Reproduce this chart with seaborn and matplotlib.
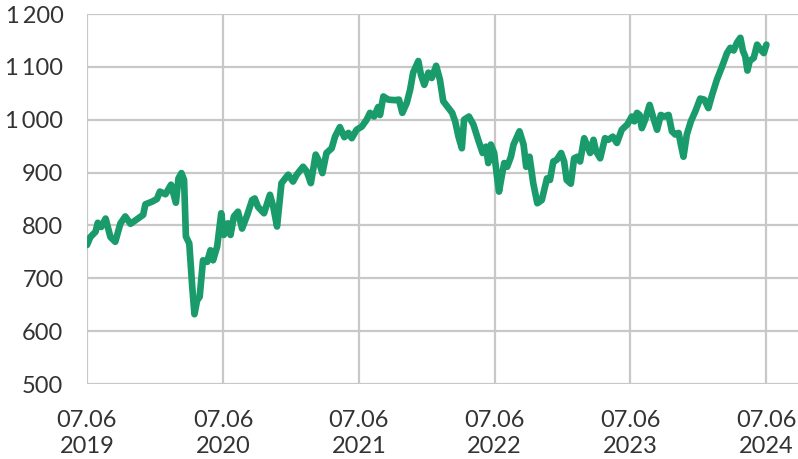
import pandas as pd
import matplotlib
matplotlib.use('Agg')
import matplotlib.pyplot as plt
import seaborn as sns

# values
dates = [
    '2019-07-06', '2019-07-15', '2019-07-29', '2019-08-04', '2019-08-13', '2019-08-25',
    '2019-09-07', '2019-09-20', '2019-10-04', '2019-10-17', '2019-10-31', '2019-11-18',
    '2019-12-04', '2019-12-10', '2019-12-28', '2020-01-10', '2020-01-18', '2020-02-02',
    '2020-02-17', '2020-03-01', '2020-03-08', '2020-03-16', '2020-03-23', '2020-03-28',
    '2020-04-06', '2020-04-14', '2020-04-20', '2020-04-27', '2020-05-04', '2020-05-13',
    '2020-05-24', '2020-06-02', '2020-06-09', '2020-06-20', '2020-07-01', '2020-07-08',
    '2020-07-19', '2020-07-26', '2020-08-04', '2020-08-15', '2020-08-26', '2020-09-09',
    '2020-09-22', '2020-09-29', '2020-10-08', '2020-10-24', '2020-11-09', '2020-11-18',
    '2020-11-28', '2020-12-10', '2020-12-28', '2021-01-10', '2021-01-20', '2021-02-06',
    '2021-02-16', '2021-02-27', '2021-03-12', '2021-03-19', '2021-03-30', '2021-04-10',
    '2021-04-24', '2021-05-03', '2021-05-16', '2021-05-28', '2021-06-08', '2021-06-17',
    '2021-06-30', '2021-07-14', '2021-07-27', '2021-08-05', '2021-08-16', '2021-08-27',
    '2021-09-01', '2021-09-10', '2021-09-23', '2021-10-11', '2021-10-22', '2021-10-31',
    '2021-11-12', '2021-11-21', '2021-11-29', '2021-12-13', '2021-12-20', '2021-12-29',
    '2022-01-09', '2022-01-18', '2022-01-30', '2022-02-09', '2022-02-18', '2022-03-04',
    '2022-03-14', '2022-03-22', '2022-03-31', '2022-04-09', '2022-04-15', '2022-04-28',
    '2022-05-10', '2022-05-23', '2022-06-04', '2022-06-13', '2022-06-19', '2022-06-26',
    '2022-07-05', '2022-07-12', '2022-07-18', '2022-07-25', '2022-08-01', '2022-08-09',
    '2022-08-19', '2022-08-26', '2022-09-11', '2022-09-22', '2022-09-29', '2022-10-08',
    '2022-10-18', '2022-10-29', '2022-11-10', '2022-11-24', '2022-12-02', '2022-12-11',
    '2022-12-20', '2023-01-01', '2023-01-09', '2023-01-16', '2023-01-27', '2023-02-05',
    '2023-02-14', '2023-02-21', '2023-03-04', '2023-03-13', '2023-03-20', '2023-03-29',
    '2023-04-05', '2023-04-16', '2023-04-29', '2023-05-08', '2023-05-20', '2023-05-31',
    '2023-06-13', '2023-06-28', '2023-07-10', '2023-07-17', '2023-07-24', '2023-07-31',
    '2023-08-06', '2023-08-15', '2023-08-27', '2023-09-05', '2023-09-16', '2023-09-26',
    '2023-10-05', '2023-10-17', '2023-10-26', '2023-11-04', '2023-11-13', '2023-11-19',
    '2023-11-26', '2023-12-05', '2023-12-16', '2023-12-28', '2024-01-10', '2024-01-21',
    '2024-02-01', '2024-02-11', '2024-02-24', '2024-03-09', '2024-03-22', '2024-03-31',
    '2024-04-09', '2024-04-18', '2024-04-27', '2024-05-04', '2024-05-10', '2024-05-16',
    '2024-05-22', '2024-06-02', '2024-06-11', '2024-06-20', '2024-06-29', '2024-07-06',
]
values = [
    763, 778, 788, 805, 797, 813,
    778, 769, 804, 817, 803, 812,
    820, 840, 845, 850, 864, 859,
    877, 843, 889, 899, 886, 779,
    766, 684, 632, 658, 665, 734,
    731, 753, 734, 760, 823, 782,
    804, 782, 817, 826, 794, 820,
    848, 851, 835, 823, 858, 835,
    798, 880, 896, 883, 896, 911,
    902, 880, 934, 924, 899, 937,
    946, 968, 986, 967, 975, 965,
    981, 987, 1000, 1013, 1006, 1024,
    1009, 1044, 1038, 1037, 1038, 1013,
    1032, 1057, 1089, 1111, 1085, 1066,
    1089, 1079, 1102, 1076, 1035, 1022,
    1013, 997, 968, 946, 1000, 1006,
    991, 962, 937, 949, 918, 953,
    937, 896, 864, 892, 918, 911,
    930, 953, 978, 953, 911, 930,
    880, 842, 848, 889, 886, 921,
    924, 937, 921, 886, 879, 927,
    930, 921, 965, 949, 937, 962,
    940, 927, 965, 962, 968, 956,
    981, 991, 1006, 997, 1013, 1009,
    984, 1000, 1028, 1006, 981, 1009,
    1006, 1009, 978, 972, 975, 953,
    930, 972, 997, 1016, 1040, 1038,
    1022, 1047, 1076, 1101, 1126, 1136,
    1131, 1146, 1155, 1130, 1120, 1093,
    1111, 1117, 1142, 1133, 1126, 1142,
]
tick_dates = ['2019-07-06', '2020-07-06', '2021-07-06', '2022-07-06', '2023-07-06', '2024-07-06']
tick_labels = ['07.06\n2019', '07.06\n2020', '07.06\n2021', '07.06\n2022', '07.06\n2023', '07.06\n2024']
y_ticks = [500, 600, 700, 800, 900, 1000, 1100, 1200]
y_labels = ['500', '600', '700', '800', '900', '1\u2009000', '1\u2009100', '1\u2009200']


def main():
    df = pd.DataFrame({'date': pd.to_datetime(dates), 'value': values})

    sns.set_style('white')
    plt.rcParams['font.family'] = ['Lato', 'DejaVu Sans']

    fig = plt.figure(figsize=(7.98, 4.59), dpi=100)
    ax = fig.add_axes([87 / 798, 75 / 459, 711 / 798, 370 / 459])

    grid_color = '#c8c8c8'
    ax.grid(True, axis='both', color=grid_color, linewidth=1.6)
    ax.set_axisbelow(True)

    sns.lineplot(data=df, x='date', y='value', ax=ax, color='#1a9b6c',
                 linewidth=4.8, solid_capstyle='round', solid_joinstyle='round')

    ax.set_xlim(pd.Timestamp('2019-07-06'), pd.Timestamp('2024-09-29'))
    ax.set_ylim(500, 1200)

    ax.set_xticks(pd.to_datetime(tick_dates))
    ax.set_xticklabels(tick_labels, linespacing=1.3)
    ax.set_yticks(y_ticks)
    ax.set_yticklabels(y_labels)

    ax.tick_params(axis='x', length=9.5, width=1.6, color=grid_color, pad=9,
                   labelsize=17, labelcolor='#333333')
    ax.tick_params(axis='y', length=10, width=1.6, color=grid_color, pad=7,
                   labelsize=17, labelcolor='#333333')

    for spine in ax.spines.values():
        spine.set_visible(False)

    ax.set_xlabel('')
    ax.set_ylabel('')

    fig.savefig('out.png', dpi=100)


if __name__ == '__main__':
    main()
